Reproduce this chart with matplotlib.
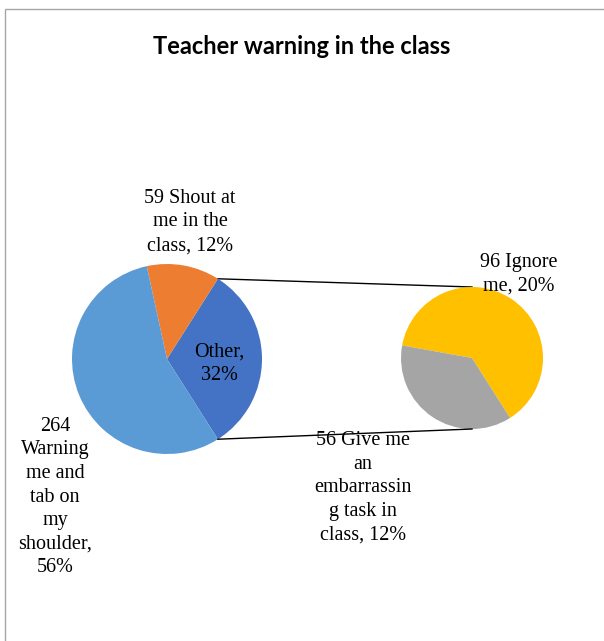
import numpy as np
import matplotlib
matplotlib.use('Agg')
import matplotlib.pyplot as plt
from matplotlib.patches import Rectangle

# data
main_labels = ['Other,\n32%', '59 Shout at\nme in the\nclass, 12%', '264\nWarning\nme and\ntab on\nmy\nshoulder,\n56%']
main_values = [152, 59, 264]
main_colors = ['#4472C4', '#ED7D31', '#5B9BD5']
sub_labels = ['96 Ignore\nme, 20%', '56 Give me\nan\nembarrassin\ng task in\nclass, 12%']
sub_values = [96, 56]
sub_colors = ['#FFC000', '#A5A5A5']
title = 'Teacher warning in the class'

W, H = 604, 641
fig = plt.figure(figsize=(W / 100, H / 100), dpi=100)
ax = fig.add_axes([0, 0, 1, 1])

# chart frame (left and top edge visible)
fig.patches.append(Rectangle((5 / W, -0.1), 1.0, (H - 9) / H + 0.1, transform=fig.transFigure,
                             fill=False, edgecolor='#A6A6A6', linewidth=1))

# main pie, "Other" slice centred on the right
other_angle = 360 * main_values[0] / sum(main_values)
c1, r1 = (167, H - 359), 95
w1, _ = ax.pie(main_values, colors=main_colors, center=c1, radius=r1,
               startangle=-other_angle / 2, wedgeprops=dict(linewidth=0), frame=True)

# secondary pie
c2, r2 = (472, H - 358), 71
w2, _ = ax.pie(sub_values, colors=sub_colors, center=c2, radius=r2,
               startangle=-other_angle / 2, wedgeprops=dict(linewidth=0), frame=True)

# connector lines
t1, t2 = np.deg2rad(w1[0].theta1), np.deg2rad(w1[0].theta2)
p_top = (c1[0] + r1 * np.cos(t2), c1[1] + r1 * np.sin(t2))
p_bot = (c1[0] + r1 * np.cos(t1), c1[1] + r1 * np.sin(t1))
ax.plot([p_top[0], c2[0]], [p_top[1], c2[1] + r2], color='black', lw=1, zorder=0)
ax.plot([p_bot[0], c2[0]], [p_bot[1], c2[1] - r2], color='black', lw=1, zorder=3)

# labels
txt = dict(fontsize=14.5, family='Liberation Serif', ha='center', va='center', linespacing=1.33)
ax.text(219, H - 364, main_labels[0], **txt)
ax.text(190, H - 222, main_labels[1], **txt)
ax.text(55, H - 497, main_labels[2], **txt)
ax.text(519, H - 274, sub_labels[0], **txt)
ax.text(363, H - 488, sub_labels[1], **txt)

ax.text(W / 2, H - 47, title, fontsize=17, fontweight='bold', family='Lato', ha='center', va='center')

ax.set_xlim(0, W)
ax.set_ylim(0, H)
ax.set_aspect('equal')
ax.axis('off')

fig.savefig('out.png', dpi=100)
